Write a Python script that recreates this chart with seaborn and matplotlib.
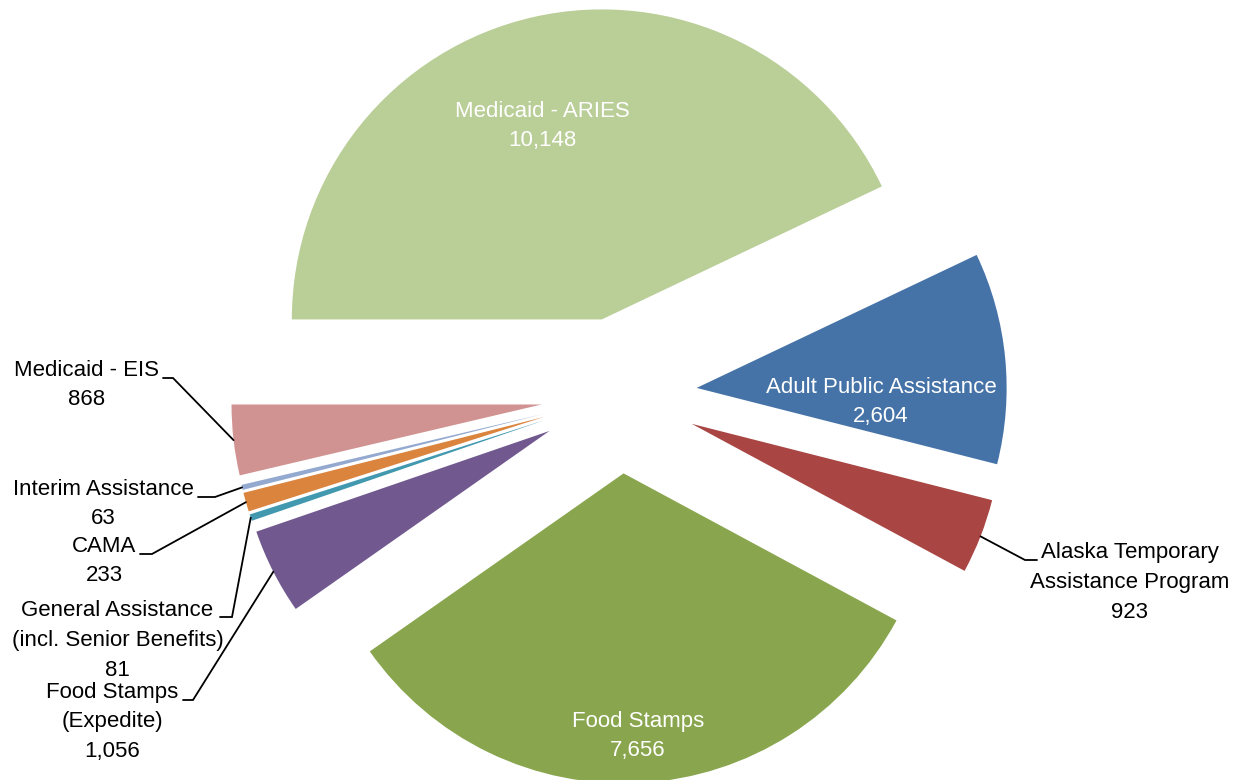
import numpy as np
import matplotlib
matplotlib.use("Agg")
import matplotlib.pyplot as plt
import seaborn as sns
from matplotlib import font_manager

# caseload by program (clockwise from 9 o'clock)
programs = [
    "Medicaid - ARIES",
    "Adult Public Assistance",
    "Alaska Temporary\nAssistance Program",
    "Food Stamps",
    "Food Stamps\n(Expedite)",
    "General Assistance\n(incl. Senior Benefits)",
    "CAMA",
    "Interim Assistance",
    "Medicaid - EIS",
]
cases = [10148, 2604, 923, 7656, 1056, 81, 233, 63, 868]
colors = ["#BACE98", "#4673A7", "#A94644", "#89A64E", "#71598F",
          "#4198AF", "#DB843D", "#94A9CF", "#D09392"]

sns.set_theme(style="white")
names = {f.name for f in font_manager.fontManager.ttflist}
if "Liberation Sans Narrow" in names:
    fam, fsize, lsp = "Liberation Sans Narrow", 19, 1.3
else:
    fam, fsize, lsp = "Liberation Sans", 16, 1.56
plt.rcParams["font.family"] = [fam, "DejaVu Sans"]

W, H = 1237, 780
fig = plt.figure(figsize=(W / 100, H / 100), dpi=100)
ax = fig.add_axes([0, 0, 1, 1])

wedges, _ = ax.pie(cases, colors=colors, startangle=180, counterclock=False,
                   radius=310, center=(619, H - 395.5), explode=[78] * len(cases),
                   wedgeprops=dict(linewidth=0), frame=False)
ax.set_xlim(0, W)
ax.set_ylim(0, H)
ax.set_axis_off()


def img(x, y):
    return x, H - y


def label(i):
    return f"{programs[i]}\n{cases[i]:,}"


# labels inside the big slices (image pixel layout)
inside = {0: (542, 126), 1: (881, 402), 3: (638, 736)}
for i, (x, y) in inside.items():
    ax.text(*img(x, y), label(i), color="white", ha="center", va="center",
            fontsize=fsize, linespacing=lsp)

# outside labels with leader lines: text centre, elbow, line end
outside = {
    8: ((87, 385), (173, 378), (163, 378)),
    7: ((103.5, 504), (215, 497), (198, 497)),
    6: ((104, 561), (152, 554), (140, 554)),
    5: ((117.5, 640.5), (232, 617), (220, 617)),
    4: ((112.5, 722), (193, 700), (183, 700)),
    2: ((1129.5, 582.5), (1025, 560), (1037, 560)),
}
for i, (tpos, elbow, end) in outside.items():
    w = wedges[i]
    th = np.deg2rad((w.theta1 + w.theta2) / 2)
    cx, cy = w.center
    px, py = cx + w.r * np.cos(th), cy + w.r * np.sin(th)
    ex, ey = img(*elbow)
    fx, fy = img(*end)
    ax.plot([px, ex, fx], [py, ey, fy], color="black", lw=1.3,
            solid_joinstyle="miter", clip_on=False)
    ax.text(*img(*tpos), label(i), color="black", ha="center", va="center",
            fontsize=fsize, linespacing=lsp)

fig.savefig("out.png", dpi=100, facecolor="white")
